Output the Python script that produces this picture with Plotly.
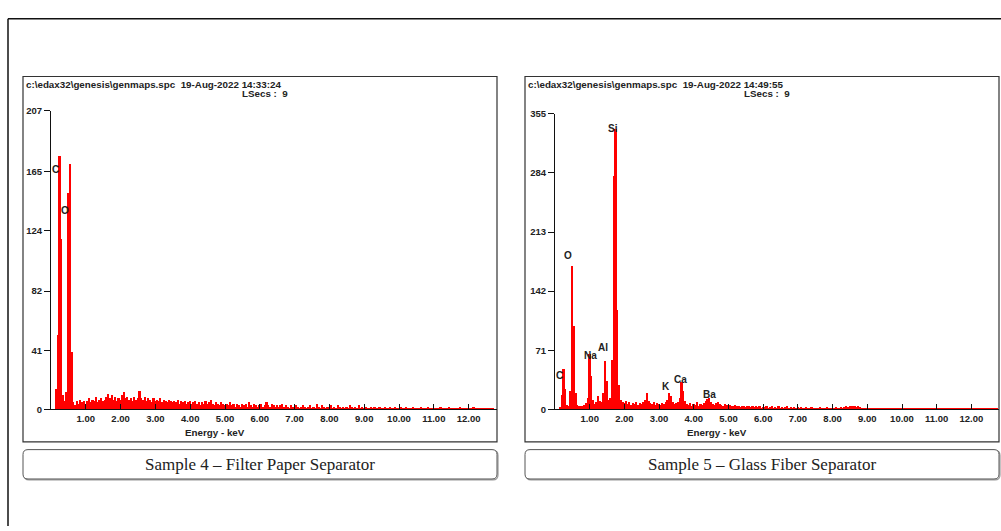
import numpy as np
import plotly.graph_objects as go

W, H = 1001, 531
STEP = 0.05  # keV per channel

# ---------------- data ----------------
counts4 = [
    0, 0, 0, 14, 52, 176, 118, 10, 6, 12, 150, 170, 40,
    5, 3, 6, 4, 7, 5, 6, 4,
    6, 8, 5, 7, 6, 9, 5, 7, 8, 6,
    7, 9, 11, 8, 10, 7, 9, 6, 8, 7,
    10, 12, 8, 9, 7, 8, 6, 9, 7, 8,
    13, 8, 7, 9, 6, 8, 7, 5, 8, 6,
    7, 6, 8, 5, 7, 6, 5, 7, 6, 5,
    6, 5, 7, 4, 6, 5, 6, 4, 5, 6,
    4, 5, 6, 4, 5, 3, 5, 4, 6, 4,
    5, 7, 4, 3, 5, 4, 3, 5, 4, 3,
    4, 3, 5, 3, 4, 2, 4, 3, 2, 4,
    3, 4, 2, 5, 3, 2, 4, 3, 2, 3,
    4, 2, 3, 5, 3, 2, 4, 3, 2, 3,
    2, 3, 4, 2, 3, 2, 1, 3, 2, 2,
    3, 2, 1, 2, 3, 2, 1, 2, 3, 1,
    2, 1, 4, 2, 1, 3, 2, 1, 2, 1,
    3, 1, 2, 1, 3, 2, 1, 2, 1, 2,
    1, 3, 2, 1, 2, 1, 3, 1, 2, 1,
    2, 1, 1, 2, 1, 2, 1, 1, 2, 1,
    1, 2, 1, 1, 2, 1, 1, 2, 1, 1,
    2, 1, 1, 2, 1, 1, 1, 2, 1, 1,
    1, 1, 2, 1, 1, 1, 2, 1, 1, 1,
    1, 1, 1, 2, 1, 1, 1, 1, 2, 1,
    1, 1, 1, 1, 2, 1, 1, 1, 1, 1,
    1, 1, 2, 1, 1, 1, 1, 1, 1, 1,
    1, 1, 1, 1,
]

counts5 = [
    0, 0, 0, 3, 18, 49, 25, 6, 4, 22, 173, 100, 20, 6, 4, 5, 4, 6, 8, 14,
    67, 40, 12, 7, 9, 16, 10, 9, 20, 59, 35, 12, 14, 60, 280, 337, 120, 30, 12, 9,
    8,
    10, 7, 9, 6, 8, 7, 9, 6, 8, 7,
    9, 12, 20, 10, 8, 7, 9, 6, 8, 7,
    6, 8, 7, 9, 12, 20, 16, 9, 7, 8,
    9, 14, 33, 22, 10, 7, 6, 8, 5, 7,
    6, 9, 5, 7, 6, 8, 10, 13, 14, 9,
    7, 6, 8, 9, 7, 6, 5, 7, 6, 5,
    6, 4, 5, 6, 4, 5, 3, 5, 4, 3,
    4, 5, 3, 4, 3, 5, 3, 4, 2, 3,
    3, 4, 2, 3, 4, 2, 3, 2, 4, 2,
    3, 2, 3, 4, 2, 3, 2, 3, 2, 3,
    2, 3, 2, 1, 3, 2, 2, 3, 1, 2,
    2, 1, 3, 2, 2, 1, 3, 2, 2, 1,
    2, 3, 2, 2, 3, 2, 3, 4, 3, 4,
    5, 4, 5, 3, 4, 3, 2, 2, 1, 2,
    1, 2, 1, 2, 1, 1, 2, 1, 2, 1,
    1, 2, 1, 1, 2, 1, 1, 2, 1, 1,
    1, 1, 2, 1, 1, 1, 2, 1, 1, 1,
    1, 2, 1, 1, 1, 2, 1, 1, 1, 1,
    1, 1, 2, 1, 1, 1, 1, 2, 1, 1,
    1, 1, 1, 1, 2, 1, 1, 1, 1, 2,
    1, 1, 1, 1, 1, 2, 1, 1, 1, 1,
    1, 1, 1, 1, 1,
]

energy4 = np.round(np.arange(len(counts4)) * STEP, 2)
energy5 = np.round(np.arange(len(counts5)) * STEP, 2)

yticks4 = [0, 41, 82, 124, 165, 207]
yticks5 = [0, 71, 142, 213, 284, 355]
xtick_vals = [1, 2, 3, 4, 5, 6, 7, 8, 9, 10, 11, 12]
xtick_text = ["1.00", "2.00", "3.00", "4.00", "5.00", "6.00",
              "7.00", "8.00", "9.00", "10.00", "11.00", "12.00"]

elements4 = ["C", "O"]
elements5 = ["C", "O", "Na", "Al", "Si", "K", "Ca", "Ba"]

header4 = "c:\\edax32\\genesis\\genmaps.spc  19-Aug-2022 14:33:24"
header5 = "c:\\edax32\\genesis\\genmaps.spc  19-Aug-2022 14:49:55"
lsecs = "LSecs :  9"
xlabel = "Energy - keV"
caption4 = "Sample 4 \u2013 Filter Paper Separator"
caption5 = "Sample 5 \u2013 Glass Fiber Separator"

# ---------------- layout positions ----------------
lab4_pos = [(0.14, 166), (0.40, 138)]
lab5_pos = [(0.14, 41), (0.37, 185), (1.01, 65), (1.38, 74),
            (1.67, 337), (3.20, 27), (3.63, 36), (4.44, 18)]


def X(px):
    return px / W


def Y(py):
    return 1 - py / H


SANS = "Liberation Sans, Arial, sans-serif"
SERIF = "Liberation Serif, Times New Roman, serif"
RED = "#ff0000"

fig = go.Figure()
fig.add_trace(go.Bar(x=energy4, y=counts4, width=STEP, marker_color=RED,
                     marker_line_width=0, xaxis="x", yaxis="y", hoverinfo="x+y"))
fig.add_trace(go.Bar(x=energy5, y=counts5, width=STEP, marker_color=RED,
                     marker_line_width=0, xaxis="x2", yaxis="y2", hoverinfo="x+y"))

p1 = dict(x0=51, x1=497, yb=412, yt=107, ymax=207, kev=34.8)
p2 = dict(x0=555, x1=999, yb=412, yt=110, ymax=355, kev=34.7)


def xaxis_cfg(p, anchor):
    return dict(domain=[X(p["x0"]), X(p["x1"])], anchor=anchor,
                range=[0, (p["x1"] - p["x0"]) / p["kev"]],
                showline=True, linecolor="#111", linewidth=1.2,
                ticks="inside", ticklen=5, tickcolor="#111", tickwidth=1,
                tickvals=xtick_vals, ticktext=xtick_text,
                tickfont=dict(family=SANS, size=9.5, color="#222", weight="bold"),
                showgrid=False, zeroline=False, fixedrange=True)


def yaxis_cfg(p, ticks, anchor):
    return dict(domain=[Y(p["yb"]), Y(p["yt"])], anchor=anchor,
                range=[0, p["ymax"]],
                showline=True, linecolor="#111", linewidth=1.2,
                ticks="outside", ticklen=6, tickcolor="#111", tickwidth=1,
                tickvals=ticks, ticktext=[str(t) for t in ticks],
                tickfont=dict(family=SANS, size=9.5, color="#222", weight="bold"),
                showgrid=False, zeroline=False, fixedrange=True)


fig.update_layout(
    width=W, height=H,
    margin=dict(l=0, r=0, t=0, b=0, pad=0),
    paper_bgcolor="white", plot_bgcolor="white",
    showlegend=False, bargap=0,
    xaxis=xaxis_cfg(p1, "y"), yaxis=yaxis_cfg(p1, yticks4, "x"),
    xaxis2=xaxis_cfg(p2, "y2"), yaxis2=yaxis_cfg(p2, yticks5, "x2"),
)

shapes = []
shapes.append(dict(type="line", xref="paper", yref="paper",
                   x0=X(8), y0=Y(13), x1=X(8), y1=Y(531),
                   line=dict(color="#111", width=1.5)))
shapes.append(dict(type="line", xref="paper", yref="paper",
                   x0=X(8), y0=Y(13), x1=X(1001), y1=Y(13),
                   line=dict(color="#111", width=1.5)))
for (bx0, bx1) in [(23, 497), (525, 999)]:
    shapes.append(dict(type="rect", xref="paper", yref="paper",
                       x0=X(bx0), y0=Y(445), x1=X(bx1), y1=Y(72),
                       line=dict(color="#333", width=1.2), layer="below"))


def rounded(px0, py0, px1, py1, r):
    pts = [
        f"M {X(px0 + r)},{Y(py0)}",
        f"L {X(px1 - r)},{Y(py0)}",
        f"Q {X(px1)},{Y(py0)} {X(px1)},{Y(py0 + r)}",
        f"L {X(px1)},{Y(py1 - r)}",
        f"Q {X(px1)},{Y(py1)} {X(px1 - r)},{Y(py1)}",
        f"L {X(px0 + r)},{Y(py1)}",
        f"Q {X(px0)},{Y(py1)} {X(px0)},{Y(py1 - r)}",
        f"L {X(px0)},{Y(py0 + r)}",
        f"Q {X(px0)},{Y(py0)} {X(px0 + r)},{Y(py0)}",
        "Z",
    ]
    return " ".join(pts)


for (bx0, bx1) in [(23, 497), (525, 999)]:
    shapes.append(dict(type="path", xref="paper", yref="paper",
                       path=rounded(bx0 + 1, 454, bx1 + 1, 484, 5),
                       line=dict(color="#999", width=1.2)))
    shapes.append(dict(type="path", xref="paper", yref="paper",
                       path=rounded(bx0, 453, bx1, 483, 5),
                       fillcolor="white",
                       line=dict(color="#555", width=1)))

annotations = []


def txt(text, px, py, size=9, xanchor="left", family=SANS, color="#222", bold=True):
    annotations.append(dict(
        text=f"<b>{text}</b>" if bold else text,
        x=X(px), y=Y(py), xref="paper", yref="paper",
        xanchor=xanchor, yanchor="middle", showarrow=False,
        font=dict(family=family, size=size, color=color)))


txt(header4, 24, 80, size=9.8)
txt(lsecs, 240, 89, size=9.8)
txt(header5, 526, 80, size=9.8)
txt(lsecs, 742, 89, size=9.8)
txt(xlabel, 215, 436, size=9.8, xanchor="center")
txt(xlabel, 717, 436, size=9.8, xanchor="center")
txt(caption4, 260, 468, size=17, xanchor="center", family=SERIF, color="#222", bold=False)
txt(caption5, 762, 468, size=17, xanchor="center", family=SERIF, color="#222", bold=False)

for name, (ex, ey) in zip(elements4, lab4_pos):
    annotations.append(dict(text=f"<b>{name}</b>", x=ex, y=ey, xref="x", yref="y",
                            showarrow=False, xanchor="center", yanchor="middle",
                            font=dict(family=SANS, size=10, color="#222")))
for name, (ex, ey) in zip(elements5, lab5_pos):
    annotations.append(dict(text=f"<b>{name}</b>", x=ex, y=ey, xref="x2", yref="y2",
                            showarrow=False, xanchor="center", yanchor="middle",
                            font=dict(family=SANS, size=10, color="#222")))

fig.update_layout(shapes=shapes, annotations=annotations)

fig.write_html(
    "out.html",
    config={"displayModeBar": False},
    post_script="document.documentElement.style.margin='0';"
                "document.body.style.margin='0';"
                "document.body.style.overflow='hidden';",
)
